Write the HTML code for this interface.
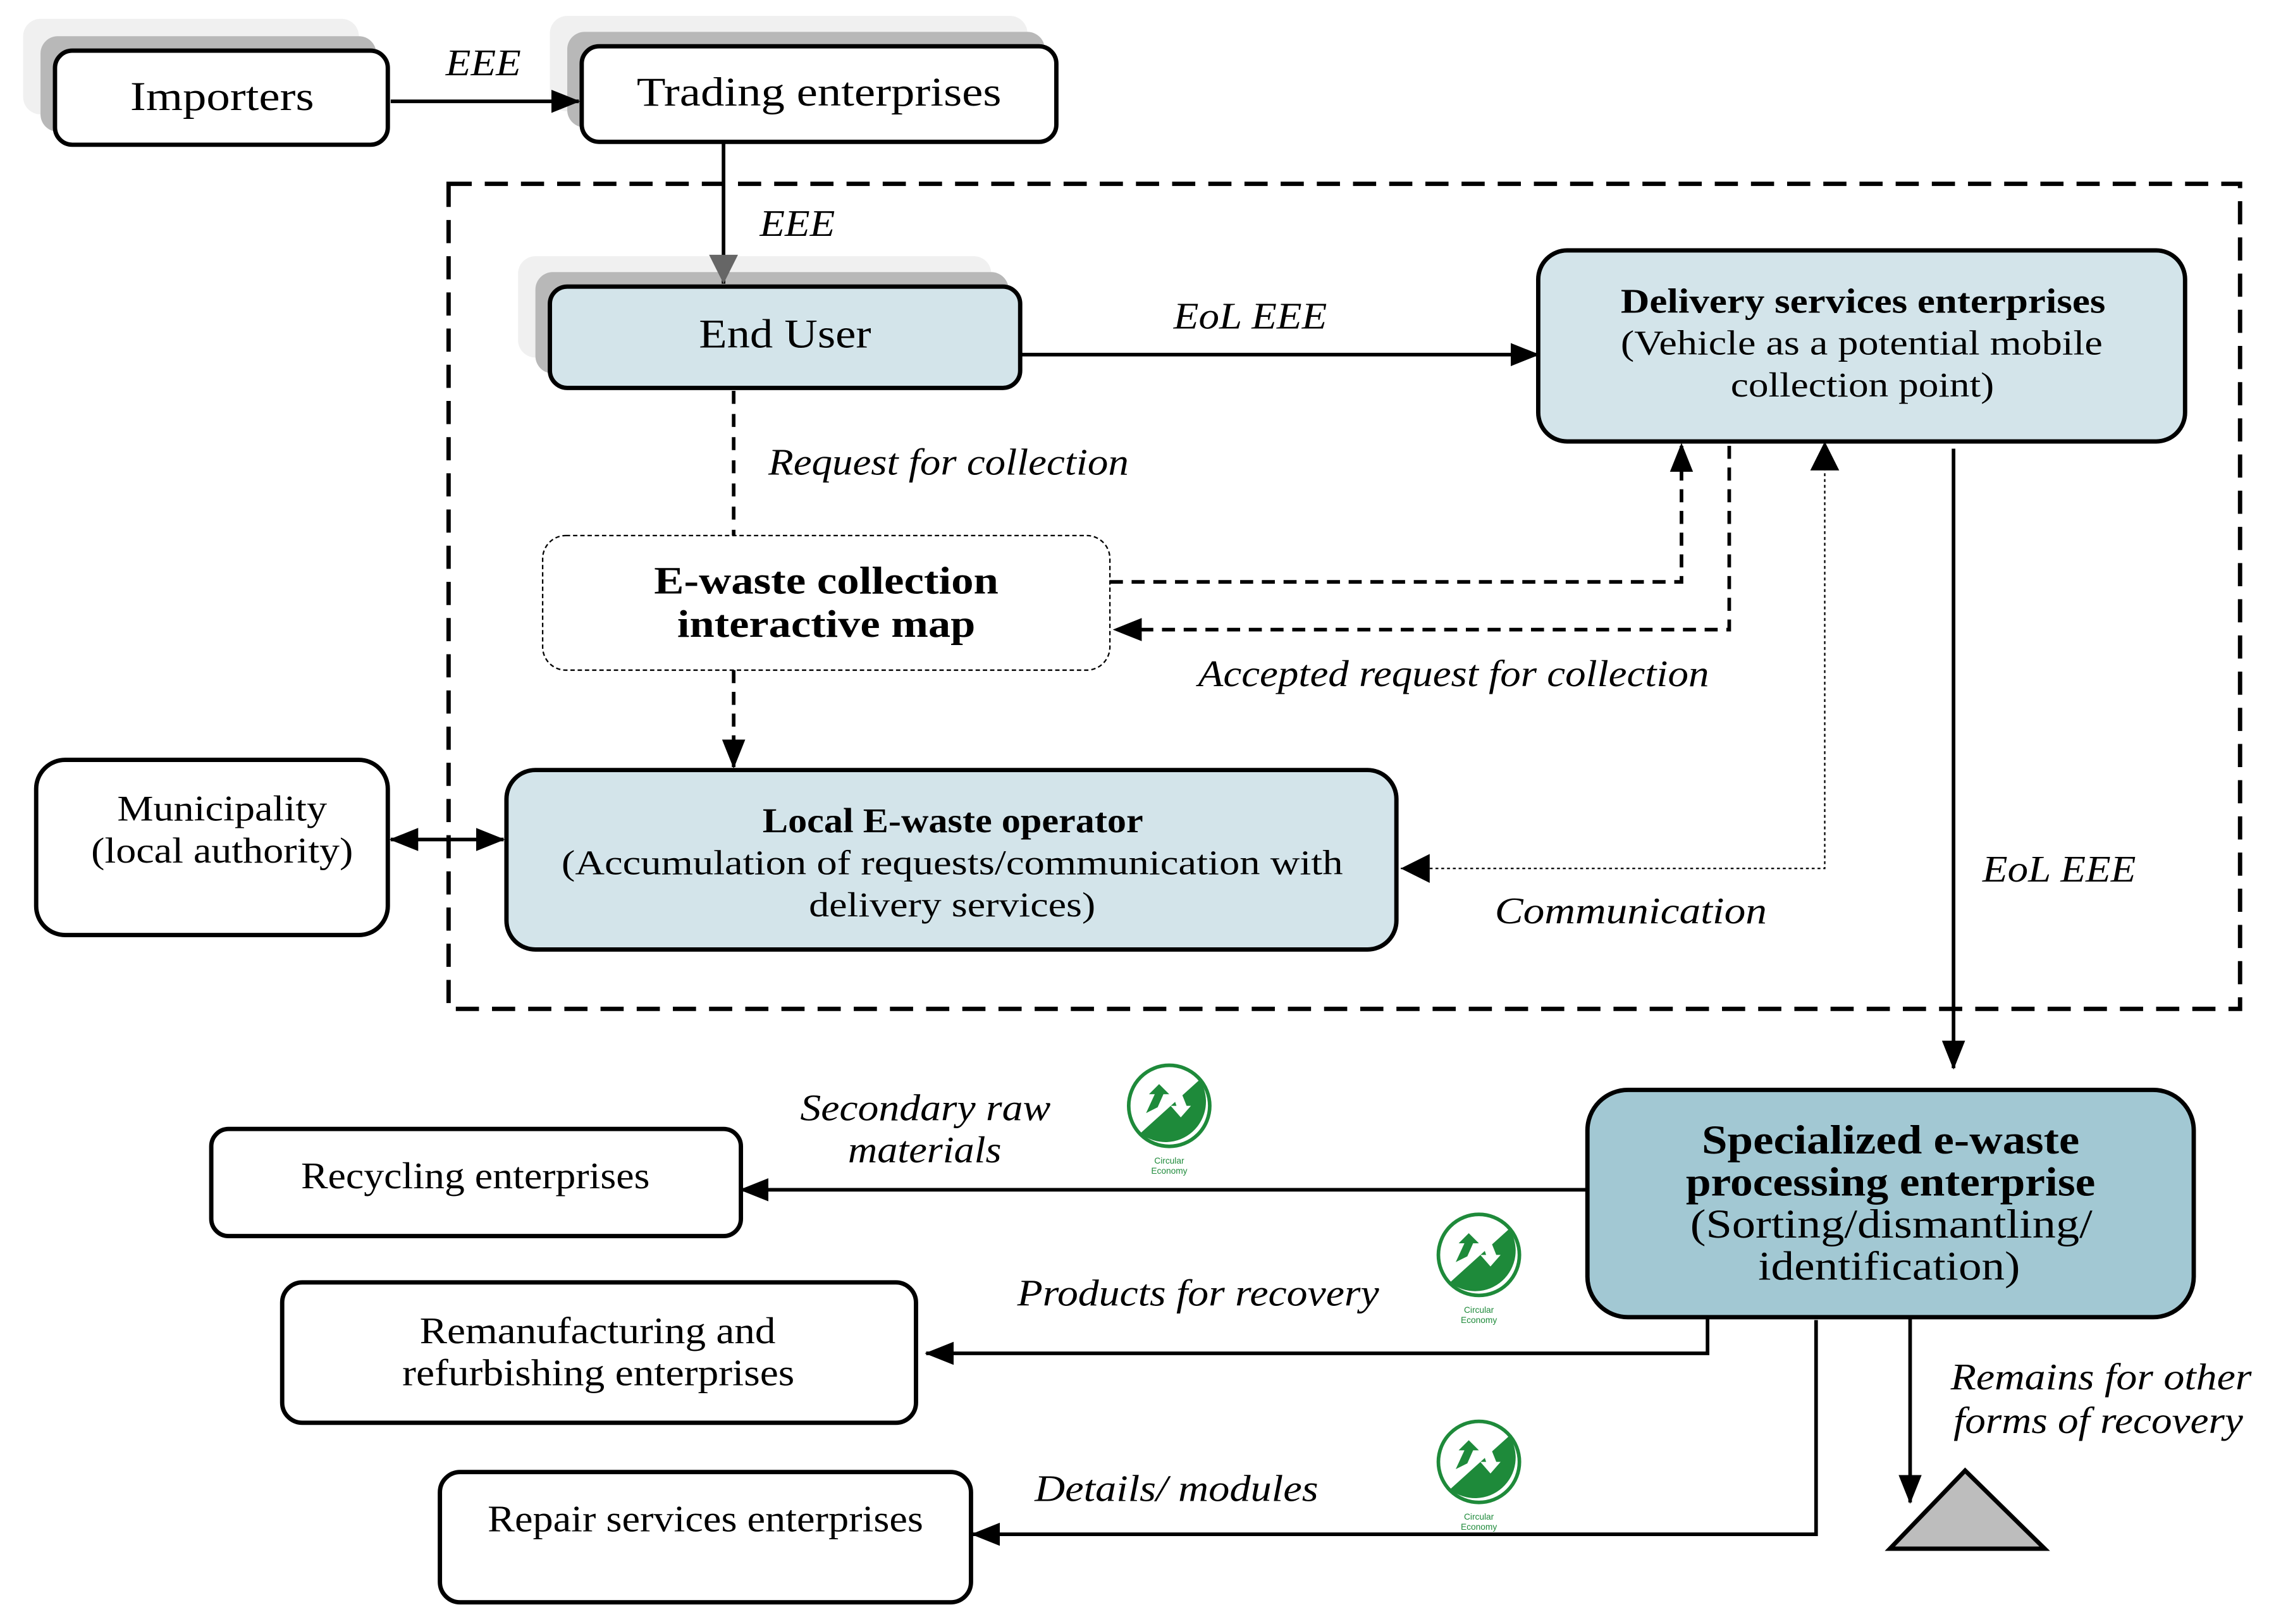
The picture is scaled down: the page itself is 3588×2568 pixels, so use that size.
<!DOCTYPE html>
<html><head><meta charset="utf-8"><style>html,body{margin:0;padding:0;background:#fff}svg{display:block}</style></head>
<body>
<svg xmlns="http://www.w3.org/2000/svg" width="3588" height="2568" viewBox="0 0 1568 1122" preserveAspectRatio="none" font-family="Liberation Serif, serif">
<defs>
<marker id="a" markerWidth="10" markerHeight="10" refX="9" refY="5" orient="auto" markerUnits="userSpaceOnUse" viewBox="0 0 10 10"><path d="M0,0 L10,5 L0,10 z" fill="#000"/></marker>
<marker id="ab" markerWidth="20" markerHeight="20" refX="19" refY="10" orient="auto-start-reverse" markerUnits="userSpaceOnUse" viewBox="0 0 20 20"><path d="M0,2 L20,10 L0,18 z" fill="#000"/></marker>
<marker id="ag" markerWidth="20" markerHeight="20" refX="19" refY="10" orient="auto" markerUnits="userSpaceOnUse" viewBox="0 0 20 20"><path d="M0,3 L20,10 L0,17 z" fill="#666"/></marker>
<g id="logo">
<circle r="28" fill="#fff" stroke="#1e8a3a" stroke-width="2.5"/>
<path d="M-20,19 L21,-18 A28,28 0 0 1 -20,19 Z" fill="#1e8a3a"/>
<path d="M-16,5 L-10,-8 L-14,-8 L-7,-15 L0,-8 L-4,-8 L-8,1 Z" fill="#1e8a3a"/>
<path d="M8,-10 L12,0 L15,0 L8,8 L1,0 L5,0 L3,-6 Z" fill="#fff"/>
<text x="0" y="40" font-size="6" fill="#1e8a3a" text-anchor="middle" font-family="Liberation Sans, sans-serif">Circular</text>
<text x="0" y="47" font-size="6" fill="#1e8a3a" text-anchor="middle" font-family="Liberation Sans, sans-serif">Economy</text>
</g>
</defs>

<!-- shadows -->
<rect x="16" y="13" width="232" height="66" rx="12" fill="#f0f0f0"/>
<rect x="28" y="25" width="232" height="66" rx="12" fill="#b8b8b8"/>
<rect x="380" y="11" width="330" height="66" rx="12" fill="#f0f0f0"/>
<rect x="392" y="22" width="330" height="66" rx="12" fill="#b8b8b8"/>
<rect x="358" y="177" width="327" height="70" rx="12" fill="#f0f0f0"/>
<rect x="370" y="188" width="327" height="70" rx="12" fill="#b8b8b8"/>

<!-- boxes -->
<rect x="38" y="35" width="230" height="65" rx="12" fill="#fff" stroke="#000" stroke-width="3"/>
<text x="90" y="76" font-size="28" textLength="127" lengthAdjust="spacingAndGlyphs">Importers</text>
<rect x="402" y="32" width="328" height="66" rx="12" fill="#fff" stroke="#000" stroke-width="3"/>
<text x="440" y="73" font-size="28" textLength="252" lengthAdjust="spacingAndGlyphs">Trading enterprises</text>

<line x1="270" y1="70" x2="400" y2="70" stroke="#000" stroke-width="2.5" marker-end="url(#ab)"/>
<text x="308" y="52" font-size="26" font-style="italic" textLength="52" lengthAdjust="spacingAndGlyphs">EEE</text>

<rect x="310" y="127" width="1238" height="570" fill="none" stroke="#000" stroke-width="3" stroke-dasharray="16,9"/>

<line x1="500" y1="98" x2="500" y2="196" stroke="#000" stroke-width="2.5"/>
<path d="M490,176 L510,176 L500,196 Z" fill="#666"/>
<text x="525" y="163" font-size="26" font-style="italic" textLength="52" lengthAdjust="spacingAndGlyphs">EEE</text>

<rect x="380" y="198" width="325" height="70" rx="12" fill="#d3e4ea" stroke="#000" stroke-width="3"/>
<text x="483" y="240" font-size="28" textLength="119" lengthAdjust="spacingAndGlyphs">End User</text>

<line x1="705" y1="245" x2="1063" y2="245" stroke="#000" stroke-width="2.5" marker-end="url(#ab)"/>
<text x="811" y="227" font-size="26" font-style="italic" textLength="106" lengthAdjust="spacingAndGlyphs">EoL EEE</text>

<rect x="1063" y="173" width="447" height="132" rx="20" fill="#d3e4ea" stroke="#000" stroke-width="3"/>
<text x="1120" y="216" font-size="24" font-weight="bold" textLength="335" lengthAdjust="spacingAndGlyphs">Delivery services enterprises</text>
<text x="1120" y="245" font-size="24" textLength="333" lengthAdjust="spacingAndGlyphs">(Vehicle as a potential mobile</text>
<text x="1196" y="274" font-size="24" textLength="182" lengthAdjust="spacingAndGlyphs">collection point)</text>

<line x1="507" y1="270" x2="507" y2="370" stroke="#000" stroke-width="2.5" stroke-dasharray="9,7"/>
<text x="531" y="328" font-size="26" font-style="italic" textLength="249" lengthAdjust="spacingAndGlyphs">Request for collection</text>

<rect x="375" y="370" width="392" height="93" rx="16" fill="#fff" stroke="#000" stroke-width="1" stroke-dasharray="3,2"/>
<text x="452" y="410" font-size="27" font-weight="bold" textLength="238" lengthAdjust="spacingAndGlyphs">E-waste collection</text>
<text x="468" y="440" font-size="27" font-weight="bold" textLength="206" lengthAdjust="spacingAndGlyphs">interactive map</text>

<polyline points="767,402 1162,402 1162,307" fill="none" stroke="#000" stroke-width="2.5" stroke-dasharray="9,6" marker-end="url(#ab)"/>
<polyline points="1195,308 1195,435 770,435" fill="none" stroke="#000" stroke-width="2.5" stroke-dasharray="9,6" marker-end="url(#ab)"/>
<text x="828" y="474" font-size="26" font-style="italic" textLength="353" lengthAdjust="spacingAndGlyphs">Accepted request for collection</text>

<line x1="507" y1="463" x2="507" y2="530" stroke="#000" stroke-width="2.5" stroke-dasharray="9,6" marker-end="url(#ab)"/>

<rect x="350" y="532" width="615" height="124" rx="20" fill="#d3e4ea" stroke="#000" stroke-width="3"/>
<text x="527" y="575" font-size="24" font-weight="bold" textLength="263" lengthAdjust="spacingAndGlyphs">Local E-waste operator</text>
<text x="388" y="604" font-size="24" textLength="540" lengthAdjust="spacingAndGlyphs">(Accumulation of requests/communication with</text>
<text x="559" y="633" font-size="24" textLength="198" lengthAdjust="spacingAndGlyphs">delivery services)</text>

<polyline points="968,600 1261,600 1261,307" fill="none" stroke="#000" stroke-width="1" stroke-dasharray="2,2"/>
<path d="M968,600 L988,590 L988,610 Z" fill="#000"/>
<path d="M1261,305 L1251,325 L1271,325 Z" fill="#000"/>
<text x="1033" y="638" font-size="26" font-style="italic" textLength="188" lengthAdjust="spacingAndGlyphs">Communication</text>

<rect x="25" y="525" width="243" height="121" rx="20" fill="#fff" stroke="#000" stroke-width="3"/>
<text x="81" y="567" font-size="25" textLength="145" lengthAdjust="spacingAndGlyphs">Municipality</text>
<text x="63" y="596" font-size="25" textLength="181" lengthAdjust="spacingAndGlyphs">(local authority)</text>
<line x1="270" y1="580" x2="348" y2="580" stroke="#000" stroke-width="2.5" marker-start="url(#ab)" marker-end="url(#ab)"/>

<line x1="1350" y1="310" x2="1350" y2="738" stroke="#000" stroke-width="2.5" marker-end="url(#ab)"/>
<text x="1370" y="609" font-size="26" font-style="italic" textLength="106" lengthAdjust="spacingAndGlyphs">EoL EEE</text>

<rect x="1097" y="753" width="419" height="157" rx="28" fill="#a2c8d3" stroke="#000" stroke-width="3"/>
<text x="1176" y="797" font-size="28" font-weight="bold" textLength="261" lengthAdjust="spacingAndGlyphs">Specialized e-waste</text>
<text x="1165" y="826" font-size="28" font-weight="bold" textLength="283" lengthAdjust="spacingAndGlyphs">processing enterprise</text>
<text x="1168" y="855" font-size="28" textLength="278" lengthAdjust="spacingAndGlyphs">(Sorting/dismantling/</text>
<text x="1215" y="884" font-size="28" textLength="181" lengthAdjust="spacingAndGlyphs">identification)</text>

<rect x="146" y="780" width="366" height="74" rx="12" fill="#fff" stroke="#000" stroke-width="3"/>
<text x="208" y="821" font-size="26" textLength="241" lengthAdjust="spacingAndGlyphs">Recycling enterprises</text>
<line x1="1097" y1="822" x2="512" y2="822" stroke="#000" stroke-width="2.5" marker-end="url(#ab)"/>
<text x="553" y="774" font-size="26" font-style="italic" textLength="173" lengthAdjust="spacingAndGlyphs">Secondary raw</text>
<text x="586" y="803" font-size="26" font-style="italic" textLength="106" lengthAdjust="spacingAndGlyphs">materials</text>

<rect x="195" y="886" width="438" height="97" rx="14" fill="#fff" stroke="#000" stroke-width="3"/>
<text x="290" y="928" font-size="26" textLength="246" lengthAdjust="spacingAndGlyphs">Remanufacturing and</text>
<text x="278" y="957" font-size="26" textLength="271" lengthAdjust="spacingAndGlyphs">refurbishing enterprises</text>
<polyline points="1180,910 1180,935 640,935" fill="none" stroke="#000" stroke-width="2.5" marker-end="url(#ab)"/>
<text x="703" y="902" font-size="26" font-style="italic" textLength="250" lengthAdjust="spacingAndGlyphs">Products for recovery</text>

<rect x="304" y="1017" width="367" height="90" rx="14" fill="#fff" stroke="#000" stroke-width="3"/>
<text x="337" y="1058" font-size="26" textLength="301" lengthAdjust="spacingAndGlyphs">Repair services enterprises</text>
<polyline points="1255,912 1255,1060 672,1060" fill="none" stroke="#000" stroke-width="2.5" marker-end="url(#ab)"/>
<text x="715" y="1037" font-size="26" font-style="italic" textLength="196" lengthAdjust="spacingAndGlyphs">Details/ modules</text>

<line x1="1320" y1="910" x2="1320" y2="1038" stroke="#000" stroke-width="2.5" marker-end="url(#ab)"/>
<path d="M1306,1070 L1358,1016 L1413,1070 Z" fill="#bdbdbd" stroke="#000" stroke-width="3"/>
<text x="1348" y="960" font-size="26" font-style="italic" textLength="208" lengthAdjust="spacingAndGlyphs">Remains for other</text>
<text x="1350" y="990" font-size="26" font-style="italic" textLength="200" lengthAdjust="spacingAndGlyphs">forms of recovery</text>

<use href="#logo" x="808" y="764"/>
<use href="#logo" x="1022" y="867"/>
<use href="#logo" x="1022" y="1010"/>
</svg>
</body></html>
